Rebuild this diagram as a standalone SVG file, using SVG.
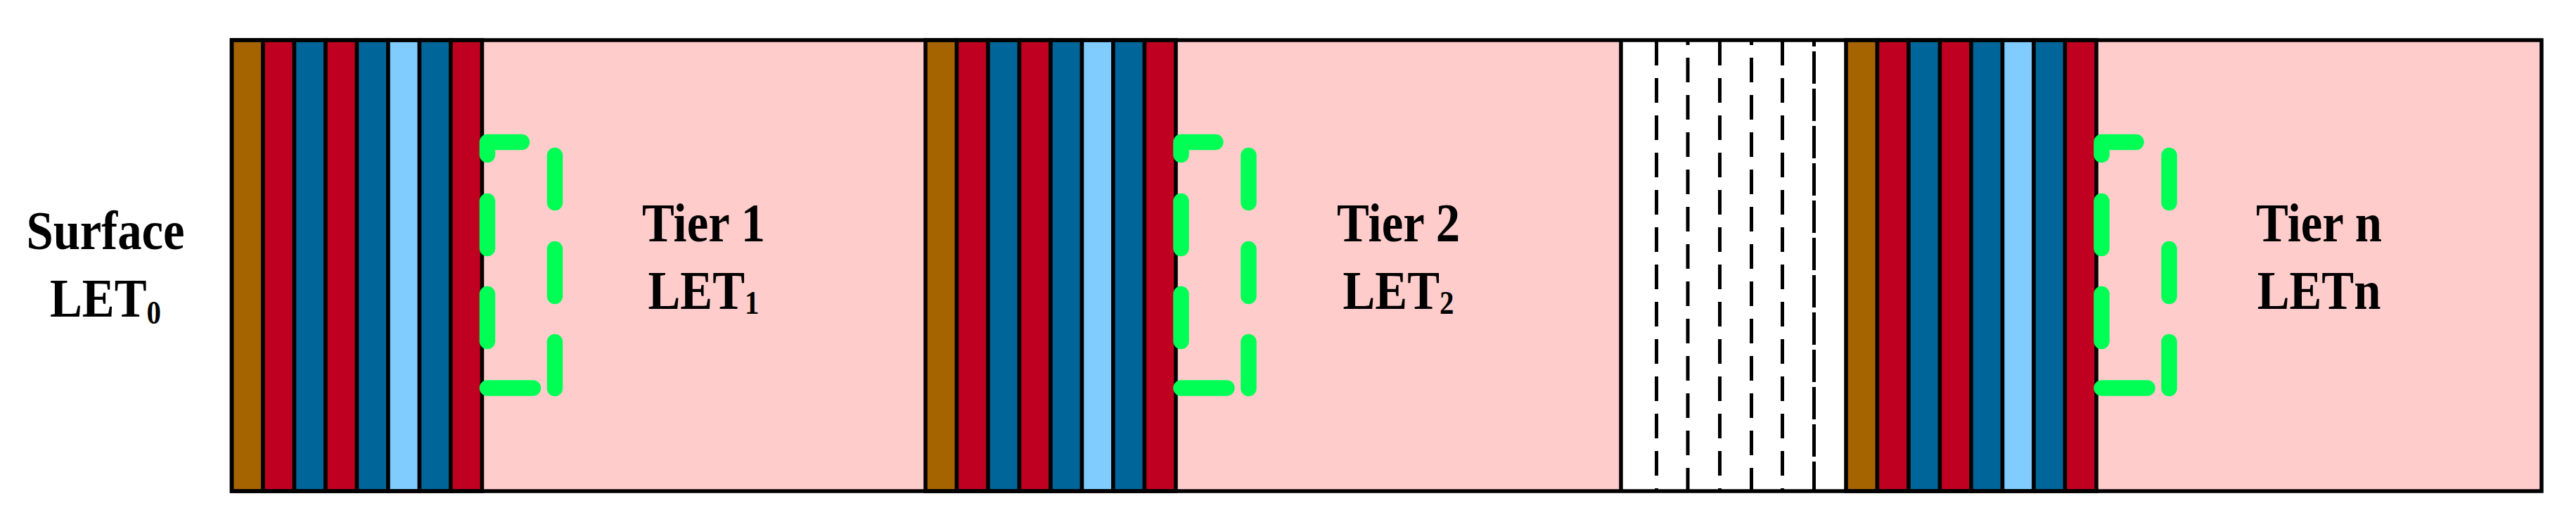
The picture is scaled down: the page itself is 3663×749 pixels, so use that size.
<svg xmlns="http://www.w3.org/2000/svg" width="3663" height="749" viewBox="0 0 3663 749">
<style>
.s{stroke:#000;stroke-width:5.5}
.br{fill:#A66400}.rd{fill:#C00020}.bl{fill:#006699}.lb{fill:#80CCFF}
.pk{fill:#FFCCCC}
.dl{stroke:#000;stroke-width:5;fill:none}
.gr{fill:none;stroke:#00FF55;stroke-width:22.5;stroke-linecap:round;stroke-linejoin:round}
.t{font-family:"Liberation Serif","Times New Roman",serif;font-weight:bold;font-size:79px;fill:#000;text-anchor:middle}
</style>
<defs>
<g id="stack">
<rect class="s br" x="0" y="57" width="44.5" height="641"/>
<rect class="s rd" x="44.5" y="57" width="44.5" height="641"/>
<rect class="s bl" x="89" y="57" width="44.5" height="641"/>
<rect class="s rd" x="133.5" y="57" width="44.5" height="641"/>
<rect class="s bl" x="178" y="57" width="44.5" height="641"/>
<rect class="s lb" x="222.5" y="57" width="44.5" height="641"/>
<rect class="s bl" x="267" y="57" width="44.5" height="641"/>
<rect class="s rd" x="311.5" y="57" width="44.5" height="641"/>
</g>
<path id="bracket" class="gr" d="M693,220 V202 H742 M693,286 V353 M693,418 V485 M693,551.5 H758 M789,221 V288 M789,354 V421 M789,486 V552"/>
</defs>

<g id="tier1-region">
<rect class="pk" x="685.5" y="57" width="630.5" height="641"/>
</g>
<g id="tier2-region">
<rect class="pk" x="1672" y="57" width="633" height="641"/>
</g>
<g id="gap-region">
<rect fill="#FFFFFF" x="2305" y="57" width="320" height="641"/>
<line class="dl" x1="2355.5" y1="58" x2="2355.5" y2="698" stroke-dasharray="35 18"/>
<line class="dl" x1="2400" y1="57" x2="2400" y2="698" stroke-dasharray="35 18" stroke-dashoffset="28"/>
<line class="dl" x1="2445.5" y1="58" x2="2445.5" y2="698" stroke-dasharray="35 18"/>
<line class="dl" x1="2490.5" y1="57" x2="2490.5" y2="698" stroke-dasharray="35 18" stroke-dashoffset="28"/>
<line class="dl" x1="2534.5" y1="58" x2="2534.5" y2="698" stroke-dasharray="35 18"/>
<line class="dl" x1="2579.5" y1="57" x2="2579.5" y2="698" stroke-dasharray="46 7" stroke-dashoffset="37"/>
<line class="s" x1="2305" y1="57" x2="2305" y2="698"/>
</g>
<g id="tiern-region">
<rect class="pk" x="2981" y="57" width="633" height="641"/>
</g>

<g id="stack1"><use href="#stack" x="329.5"/></g>
<g id="stack2"><use href="#stack" x="1316"/></g>
<g id="stack3"><use href="#stack" x="2625"/></g>

<g id="frame">
<rect x="329.5" y="57" width="3284.5" height="641" fill="none" stroke="#000" stroke-width="5.5"/>
</g>

<g id="bracket1"><use href="#bracket"/></g>
<g id="bracket2"><use href="#bracket" x="986.5"/></g>
<g id="bracket3"><use href="#bracket" x="2295.5"/></g>

<g id="surface-label" transform="translate(150,0) scale(0.87,1)">
<text class="t" x="0" y="354">Surface</text>
<text class="t" x="0" y="450">LET<tspan font-size="47" dy="10">0</tspan></text>
</g>
<g id="tier1-label" transform="translate(1000.5,0) scale(0.87,1)">
<text class="t" x="0" y="343">Tier 1</text>
<text class="t" x="0" y="439">LET<tspan font-size="47" dy="7">1</tspan></text>
</g>
<g id="tier2-label" transform="translate(1988.5,0) scale(0.87,1)">
<text class="t" x="0" y="343">Tier 2</text>
<text class="t" x="0" y="439">LET<tspan font-size="47" dy="7">2</tspan></text>
</g>
<g id="tiern-label" transform="translate(3297.5,0) scale(0.87,1)">
<text class="t" x="0" y="343">Tier n</text>
<text class="t" x="0" y="439">LETn</text>
</g>
</svg>
